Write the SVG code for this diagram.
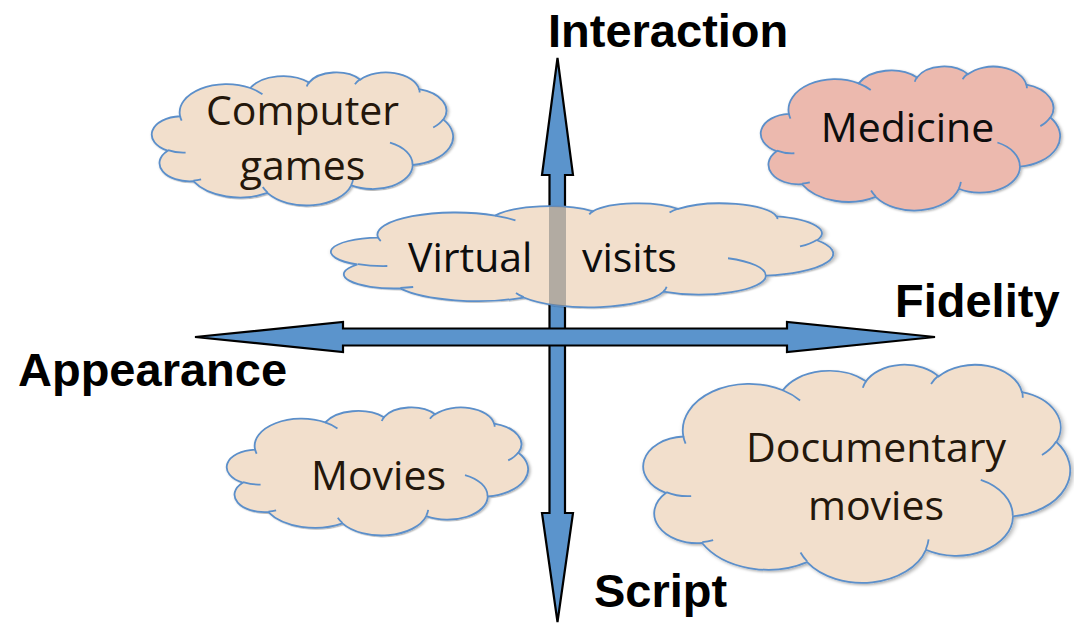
<svg xmlns="http://www.w3.org/2000/svg" xmlns:xlink="http://www.w3.org/1999/xlink" width="1074" height="627" viewBox="0 0 1074 627">
<style>
.axis{fill:#5b94cc;stroke:#000;stroke-width:2.2;stroke-linejoin:miter}
.cloud{fill:#f2dfcc;stroke:#5b8fca;stroke-width:1.8}
.med{fill:#ecb9ae}
.curl{fill:none;stroke:#5b8fca;stroke-width:1.8}
.lbl{font-family:"Liberation Sans",Arial,sans-serif;font-weight:bold;font-size:47px;fill:#000}
.ct{font-family:"Open Sans","Liberation Sans",sans-serif;font-size:41px;fill:#24170b;text-anchor:middle}
.dk{fill:#0d0d0d}
</style>
<defs>
<path id="cl" vector-effect="non-scaling-stroke" d="M39,143.7 A67.53,91.9 0 0 1 140.05,52.02 A53.33,72.67 0 0 1 224.56,34.34 A43.65,59.45 0 0 1 298.34,24.83 A48.57,65.95 0 0 1 383.18,55.8 A53.33,72.73 0 0 1 418.18,154.64 A67.75,92.2 0 0 1 374.04,302.07 A57.85,78.67 0 0 1 285.55,368.16 A67.52,92.15 0 0 1 164.79,392.66 A77.2,105.43 0 0 1 58.03,354.7 A43.6,59.18 0 0 1 21.13,255.47 A43.45,59.45 0 0 1 39,143.7 Z"/>
<path id="cu" vector-effect="non-scaling-stroke" d="M46.93,261.77 A43.45,59.45 0 0 1 21.59,253.8 M69.28,348.99 A43.6,59.18 0 0 1 58.19,352.81 M164.78,390.9 A67.52,92.15 0 0 1 158.1,373.49 M288.27,347.51 A67.52,92.15 0 0 1 285.6,366.61 M341.29,229.54 A57.85,78.67 0 0 1 373.8,300.9 M417.98,153.54 A53.33,72.73 0 0 1 403.5,180.3 M383.24,54.26 A48.57,65.95 0 0 1 384,66.89 M290.78,39.52 A48.57,65.95 0 0 1 298.21,23.39 M221.41,47.2 A43.65,59.45 0 0 1 225.4,32.25 M140.05,52.02 A67.53,91.9 0 0 1 157.64,72.25 M41.27,157.89 A67.53,91.9 0 0 1 39,143.7"/>
<filter id="sh" x="-10%" y="-10%" width="125%" height="130%">
<feDropShadow dx="2" dy="3" stdDeviation="2.5" flood-color="#000" flood-opacity="0.3"/>
</filter>
<clipPath id="vvclip">
<use xlink:href="#cl" transform="translate(333,203) scale(1.1574,0.2407)"/>
</clipPath>
</defs>

<g id="connectors">
<polygon id="axis-vertical" class="axis" points="557.5,58 573,175 565,175 565,513 573,513 557.5,622 542,513 549.5,513 549.5,175 542,175"/>
</g>

<g id="node-computer-games">
<g transform="translate(153,72) scale(0.6944,0.3079)" filter="url(#sh)">
<use xlink:href="#cl" class="cloud"/>
<use xlink:href="#cu" class="curl"/>
</g>
<text class="ct" x="302.5" y="125">Computer</text>
<text class="ct" x="302.5" y="180">games</text>
</g>

<g id="node-medicine">
<g transform="translate(762,66) scale(0.6898,0.3333)" filter="url(#sh)">
<use xlink:href="#cl" class="cloud med"/>
<use xlink:href="#cu" class="curl"/>
</g>
<text class="ct dk" x="907.5" y="142">Medicine</text>
</g>

<g id="node-virtual-visits">
<g transform="translate(333,203) scale(1.1574,0.2407)" filter="url(#sh)">
<use xlink:href="#cl" class="cloud"/>
<use xlink:href="#cu" class="curl"/>
</g>
<rect x="549" y="200" width="17" height="112" fill="#7d7f80" fill-opacity="0.55" clip-path="url(#vvclip)"/>
<text class="ct dk" style="text-anchor:start"><tspan x="408" y="272">Virtual</tspan><tspan x="582" y="272">visits</tspan></text>
</g>

<g id="node-movies">
<g transform="translate(228,407) scale(0.6944,0.2963)" filter="url(#sh)">
<use xlink:href="#cl" class="cloud"/>
<use xlink:href="#cu" class="curl"/>
</g>
<text class="ct" x="378.5" y="490">Movies</text>
</g>

<g id="node-documentary-movies">
<g transform="translate(645,364) scale(0.9838,0.5046)" filter="url(#sh)">
<use xlink:href="#cl" class="cloud"/>
<use xlink:href="#cu" class="curl"/>
</g>
<text class="ct" x="876" y="462">Documentary</text>
<text class="ct" x="876" y="520">movies</text>
</g>

<g id="connectors-top">
<polygon id="axis-horizontal" class="axis" points="195,337 343,322 343,328.5 787,328.5 787,322 935,337 787,352 787,345.5 343,345.5 343,352"/>
</g>

<g id="labels">
<text class="lbl" x="548" y="47">Interaction</text>
<text class="lbl" x="895" y="317">Fidelity</text>
<text class="lbl" x="18" y="386">Appearance</text>
<text class="lbl" x="594" y="607">Script</text>
</g>
</svg>
